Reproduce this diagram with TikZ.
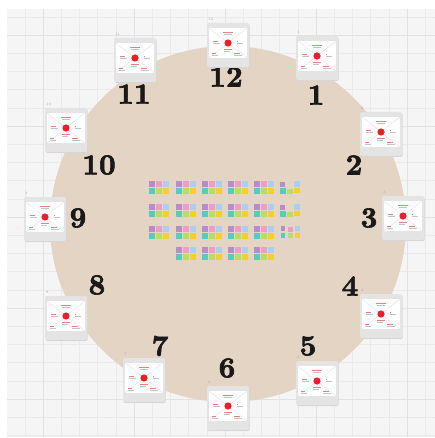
\documentclass[tikz,border=0pt]{standalone}
\usepackage{fontspec}
\newfontfamily\fatface{lmroman10-bold}[Extension=.otf, FakeBold=2.2]
\usetikzlibrary{calc}
\definecolor{board}{HTML}{F5F5F5}
\definecolor{gridc}{HTML}{EAEAEA}
\definecolor{gridm}{HTML}{E2E2E2}
\definecolor{beige}{HTML}{E3D4C4}
\definecolor{cardframe}{HTML}{E4E4E4}
\definecolor{xline}{HTML}{E6E6E6}
\definecolor{rdot}{HTML}{E8202A}
\definecolor{rtext}{HTML}{E98080}
\definecolor{gtext}{HTML}{C4C4C4}
\definecolor{sPurple}{HTML}{B58DCF}
\definecolor{sPink}{HTML}{EE9CC8}
\definecolor{sBlue}{HTML}{AACFF2}
\definecolor{sTeal}{HTML}{55CCBE}
\definecolor{sLime}{HTML}{B7DE5E}
\definecolor{sYellow}{HTML}{F3D02A}
\tikzset{
  x=1pt, y=-1pt,
  hour/.style={font=\fontsize{29}{29}\selectfont\fatface, text=black!90, inner sep=0pt},
  cardlabel/.style={font=\fontsize{3.6}{4}\selectfont, text=gray!70, inner sep=0pt, anchor=south west},
  rbar/.style={fill=rtext},
  gbar/.style={fill=gtext},
  card/.pic={
    \fill[black!16, rounded corners=1.5pt] (-20.5,-21) rectangle (21.5,23);
    \fill[cardframe, rounded corners=1.5pt] (-21,-22) rectangle (21,22);
    \fill[white] (-19,-17) rectangle (19,13);
    \draw[xline, line width=0.5pt] (-19,-17) -- (19,13) (-19,13) -- (19,-17);
    \fill[rdot] (0,-2) circle (3.6);
    \fill[rbar] (-5,-13) rectangle (5,-12);
    \fill[gbar] (-4,-11) rectangle (4,-10.4);
    \fill[rbar] (-15.5,-4) rectangle (-10,-3);
    \fill[gbar] (-15.5,-2.2) rectangle (-8,-1.6);
    \fill[rbar] (8.5,-4) rectangle (10,-3);
    \fill[gbar] (8.5,-2.2) rectangle (15,-1.6);
    \fill[rbar] (-4,4) rectangle (4,5);
    \fill[gbar] (-4,6) rectangle (2,6.6);
    \fill[rbar] (-16,8) rectangle (-12,9);
    \fill[gbar] (-16,10) rectangle (-10,10.6);
    \fill[rbar] (6,8) rectangle (12,9);
    \fill[gbar] (6,10) rectangle (14,10.6);
  },
  cluster/.pic={
    \fill[sPurple] (0,0) rectangle (6,6);
    \fill[sPink] (7,0) rectangle (13,6);
    \fill[sBlue] (14,0) rectangle (20,6);
    \fill[sTeal] (0,7) rectangle (6,13);
    \fill[sLime] (7,7) rectangle (13,13);
    \fill[sYellow] (14,7) rectangle (20,13);
  },
  clusterB/.pic={
    \fill[sPurple] (0,1) rectangle (5,6);
    \fill[sBlue] (14,0) rectangle (20,6);
    \fill[sTeal] (0,7) rectangle (6,13);
    \fill[sLime] (7,8) rectangle (13,13);
    \fill[sYellow] (14,7) rectangle (20,12);
  },
  clusterC/.pic={
    \fill[sPurple] (1,0) rectangle (5,4.5);
    \fill[sPink] (8,1) rectangle (12.5,5.5);
    \fill[sBlue] (15,0) rectangle (19.5,4.5);
    \fill[sTeal] (1,7) rectangle (5,11.5);
    \fill[sLime] (8,7) rectangle (12.5,11.5);
    \fill[sYellow] (15,7) rectangle (19.5,11.5);
  },
}
\begin{document}
\begin{tikzpicture}
\useasboundingbox (0,0) rectangle (435,438);
\fill[white] (0,0) rectangle (435,438);
\fill[board] (7,9) rectangle (435,437);
% grid
\begin{scope}
\clip (7,9) rectangle (435,437);
\foreach \i in {-2,...,24} {
  \draw[gridc, line width=0.4pt] ({43+18.2*\i-18.2*2},9) -- ({43+18.2*\i-18.2*2},437);
  \draw[gridc, line width=0.4pt] (7,{35+18.2*\i-18.2*2}) -- (435,{35+18.2*\i-18.2*2});
}
\foreach \i in {0,...,4} {
  \draw[gridm, line width=0.6pt] ({43+91*\i},9) -- ({43+91*\i},437);
  \draw[gridm, line width=0.6pt] (7,{35+91*\i}) -- (435,{35+91*\i});
}
\end{scope}
% clock face
\fill[beige] (228,224) circle (178);
% sticky note clusters
\foreach \r/\yy in {1/181,2/204,3/226} {
  \foreach \c/\xx in {1/149,2/175.5,3/202,4/228,5/254} {
    \pic (cl\r\c) at (\xx,\yy) {cluster};
  }
}
\pic (cl16) at (280,181) {clusterB};
\pic (cl26) at (280,204) {clusterB};
\pic (cl36) at (280,226) {clusterC};
\foreach \c/\xx in {1/175.5,2/202,3/228,4/254} {
  \pic (cl4\c) at (\xx,247) {cluster};
}
% hour numerals
\node[hour] (h12) at (226,77) {12};
\node[hour] (h1) at (316,95) {1};
\node[hour] (h2) at (354,165) {2};
\node[hour] (h3) at (369,218) {3};
\node[hour] (h4) at (350,286) {4};
\node[hour] (h5) at (308,346) {5};
\node[hour] (h6) at (227,368) {6};
\node[hour] (h7) at (160,346) {7};
\node[hour] (h8) at (97,285) {8};
\node[hour] (h9) at (78,218) {9};
\node[hour] (h10) at (99,165) {10};
\node[hour] (h11) at (134,94) {11};
% cards
\foreach \n/\cx/\cy in {12/228/45, 1/317/58, 2/381/134, 3/403/218, 4/381/316, 5/317/383, 6/228/408, 7/144/380, 8/66/318, 9/45/219, 10/66/130, 11/135/60} {
  \pic (card\n) at (\cx,\cy) {card};
  \node[cardlabel] (lab\n) at ($(\cx,\cy)+(-20,-24)$) {\n};
}
\end{tikzpicture}
\end{document}
